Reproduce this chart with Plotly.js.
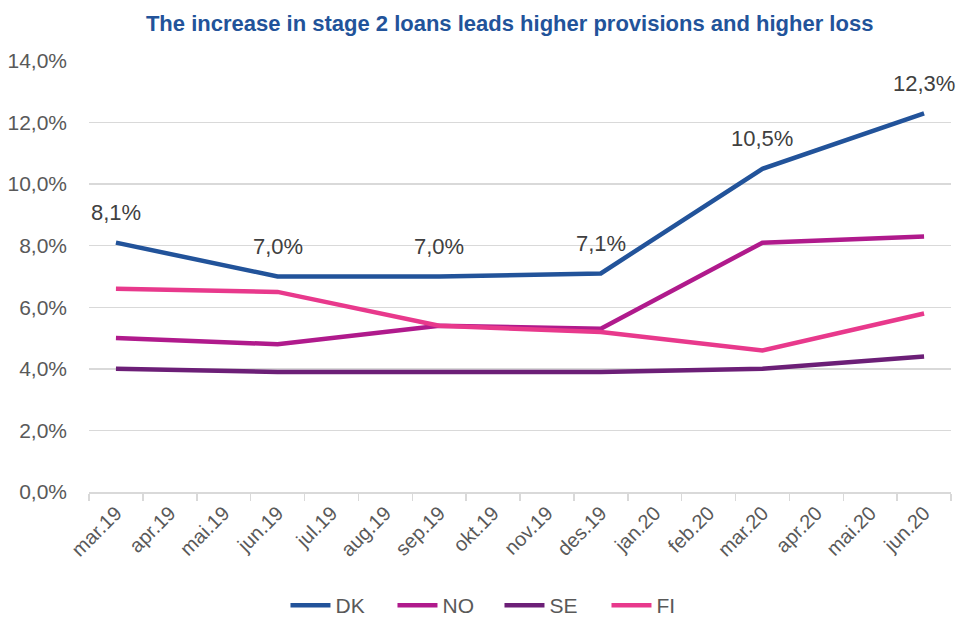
<!DOCTYPE html>
<html>
<head>
<meta charset="utf-8">
<script src="https://cdn.plot.ly/plotly-3.0.1.min.js"></script>
<style>html,body{margin:0;padding:0;background:#fff;}#chart{width:958px;height:618px;}</style>
</head>
<body>
<div id="chart"></div>
<script>
const months = ["mar.19","apr.19","mai.19","jun.19","jul.19","aug.19","sep.19","okt.19","nov.19","des.19","jan.20","feb.20","mar.20","apr.20","mai.20","jun.20"];
const dk = [8.1,null,null,7.0,null,null,7.0,null,null,7.1,null,null,10.5,null,null,12.3];
const no = [5.0,null,null,4.8,null,null,5.4,null,null,5.3,null,null,8.1,null,null,8.3];
const se = [4.0,null,null,3.9,null,null,3.9,null,null,3.9,null,null,4.0,null,null,4.4];
const fi = [6.6,null,null,6.5,null,null,5.4,null,null,5.2,null,null,4.6,null,null,5.8];
const seriesNames = ["DK","NO","SE","FI"];
const colors = ["#22539a","#b01a8c","#6c1f77","#e8398c"];
const values = [dk,no,se,fi];

const traces = values.map((v,i)=>({
  type:"scatter", mode:"lines", name:seriesNames[i], x:months, y:v,
  connectgaps:true, line:{color:colors[i], width:4.5}, hoverinfo:"skip"
}));

const annotations = [];
dk.forEach((v,i)=>{
  if(v!==null){
    annotations.push({x:months[i], y:v, xref:"x", yref:"y", text:v.toFixed(1).replace(".",",")+"%",
      showarrow:false, yshift:30, font:{family:"Liberation Sans, Arial, sans-serif", size:22, color:"#404040"}});
  }
});

const layout = {
  width:958, height:618,
  margin:{l:89, r:7, t:61, b:126},
  paper_bgcolor:"#fff", plot_bgcolor:"#fff",
  separators:", ",
  title:{text:"<b>The increase in stage 2 loans leads higher provisions and higher loss</b>",
    font:{family:"Liberation Sans Narrow, Arial Narrow, Liberation Sans, sans-serif", size:22, color:"#22539a"},
    x:0.532, xref:"container", xanchor:"center", y:0.962, yref:"container", yanchor:"middle"},
  xaxis:{type:"category", categoryorder:"array", categoryarray:months, tickson:"boundaries",
    ticks:"outside", ticklen:7, tickcolor:"#d9d9d9", tickwidth:1.5,
    showline:true, linecolor:"#d9d9d9", linewidth:1.5, showgrid:false,
    tickangle:-45, tickfont:{family:"Liberation Sans, Arial, sans-serif", size:20, color:"#595959"},
    range:[-0.5,15.5], fixedrange:true},
  yaxis:{range:[0,14], dtick:2, tickformat:".1f", ticksuffix:"%", showgrid:true, gridcolor:"#d9d9d9", gridwidth:1.5,
    zeroline:false, showline:false, ticks:"", ticklabelstandoff:21,
    tickfont:{family:"Liberation Sans, Arial, sans-serif", size:21, color:"#595959"}, fixedrange:true},
  showlegend:true,
  legend:{orientation:"h", xref:"container", yref:"container", x:0.298, xanchor:"left", y:0.02, yanchor:"middle",
    font:{family:"Liberation Sans, Arial, sans-serif", size:21, color:"#595959"}, itemwidth:40, tracegroupgap:0,
    entrywidth:52, entrywidthmode:"pixels"},
  annotations:annotations
};
Plotly.newPlot("chart", traces, layout, {staticPlot:true, displayModeBar:false});
</script>
</body>
</html>
